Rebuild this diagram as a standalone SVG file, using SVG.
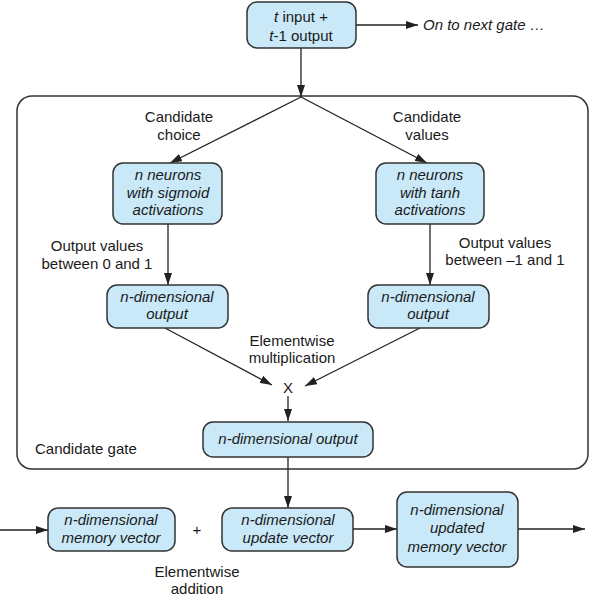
<svg xmlns="http://www.w3.org/2000/svg" width="590" height="596" viewBox="0 0 590 596">
<defs>
<style>
.box{fill:#c9e8f8;stroke:#333;stroke-width:1.5}
.frame{fill:none;stroke:#333;stroke-width:1.5}
.ln{fill:none;stroke:#222;stroke-width:1.3}
text{font-family:"Liberation Sans",Arial,sans-serif;font-size:15px;fill:#1a1a1a;text-anchor:middle}
.it{font-style:italic}
.st{text-anchor:start}
</style>
<marker id="ah" viewBox="0 0 12 8" refX="12" refY="4" markerWidth="12" markerHeight="8" markerUnits="userSpaceOnUse" orient="auto">
<path d="M0,0 L12,4 L0,8 Z" fill="#222"/>
</marker>
</defs>
<rect id="candidate-gate" class="frame" x="17" y="96" width="571" height="373" rx="15"/>
<text class="st" x="35" y="454">Candidate gate</text>
<g id="connectors">
<line class="ln" x1="356" y1="25" x2="418" y2="25" marker-end="url(#ah)"/>
<line class="ln" x1="301" y1="48" x2="301" y2="97" marker-end="url(#ah)"/>
<line class="ln" x1="301" y1="97" x2="170" y2="163" marker-end="url(#ah)"/>
<line class="ln" x1="301" y1="97" x2="427" y2="163" marker-end="url(#ah)"/>
<line class="ln" x1="168" y1="224" x2="168" y2="285" marker-end="url(#ah)"/>
<line class="ln" x1="430" y1="224" x2="430" y2="285" marker-end="url(#ah)"/>
<line class="ln" x1="165" y1="328" x2="272" y2="385" marker-end="url(#ah)"/>
<line class="ln" x1="420" y1="328" x2="305" y2="386" marker-end="url(#ah)"/>
<line class="ln" x1="288" y1="396" x2="288" y2="421" marker-end="url(#ah)"/>
<line class="ln" x1="288" y1="457" x2="288" y2="508" marker-end="url(#ah)"/>
<line class="ln" x1="0" y1="530" x2="48" y2="530" marker-end="url(#ah)"/>
<line class="ln" x1="353" y1="529" x2="397" y2="529" marker-end="url(#ah)"/>
<line class="ln" x1="518" y1="529" x2="585" y2="529" marker-end="url(#ah)"/>
</g>
<g id="input">
<rect class="box" x="247" y="2" width="109" height="46" rx="10"/>
<text x="301" y="22"><tspan class="it">t</tspan> input +</text>
<text x="301" y="41"><tspan class="it">t</tspan>-1 output</text>
</g>
<text class="it st" x="423" y="30">On to next gate …</text>
<text x="179" y="122">Candidate</text>
<text x="179" y="140">choice</text>
<text x="427" y="122">Candidate</text>
<text x="427" y="140">values</text>
<g id="sigmoid">
<rect class="box" x="113" y="163" width="109" height="61" rx="10"/>
<text class="it" x="168" y="180">n neurons</text>
<text class="it" x="168" y="198">with sigmoid</text>
<text class="it" x="168" y="215">activations</text>
</g>
<g id="tanh">
<rect class="box" x="376" y="163" width="108" height="61" rx="10"/>
<text class="it" x="430" y="180">n neurons</text>
<text class="it" x="430" y="198">with tanh</text>
<text class="it" x="430" y="215">activations</text>
</g>
<text x="97" y="251">Output values</text>
<text x="97" y="269">between 0 and 1</text>
<text x="505" y="248">Output values</text>
<text x="505" y="265">between –1 and 1</text>
<g id="out-left">
<rect class="box" x="107" y="285" width="121" height="43" rx="10"/>
<text class="it" x="167" y="302">n-dimensional</text>
<text class="it" x="167" y="319">output</text>
</g>
<g id="out-right">
<rect class="box" x="368" y="285" width="121" height="43" rx="10"/>
<text class="it" x="428" y="302">n-dimensional</text>
<text class="it" x="428" y="319">output</text>
</g>
<text x="292" y="346">Elementwise</text>
<text x="292" y="363">multiplication</text>
<text x="288" y="393">X</text>
<g id="gate-output">
<rect class="box" x="203" y="422" width="170" height="35" rx="10"/>
<text class="it" x="288" y="444">n-dimensional output</text>
</g>
<g id="memory">
<rect class="box" x="48" y="508" width="127" height="43" rx="10"/>
<text class="it" x="111" y="525">n-dimensional</text>
<text class="it" x="111" y="543">memory vector</text>
</g>
<text x="197" y="535">+</text>
<g id="update">
<rect class="box" x="222" y="508" width="131" height="43" rx="10"/>
<text class="it" x="288" y="525">n-dimensional</text>
<text class="it" x="288" y="543">update vector</text>
</g>
<g id="updated-memory">
<rect class="box" x="397" y="492" width="121" height="75" rx="10"/>
<text class="it" x="457" y="515">n-dimensional</text>
<text class="it" x="457" y="533">updated</text>
<text class="it" x="457" y="552">memory vector</text>
</g>
<text x="197" y="577">Elementwise</text>
<text x="197" y="594">addition</text>
</svg>
